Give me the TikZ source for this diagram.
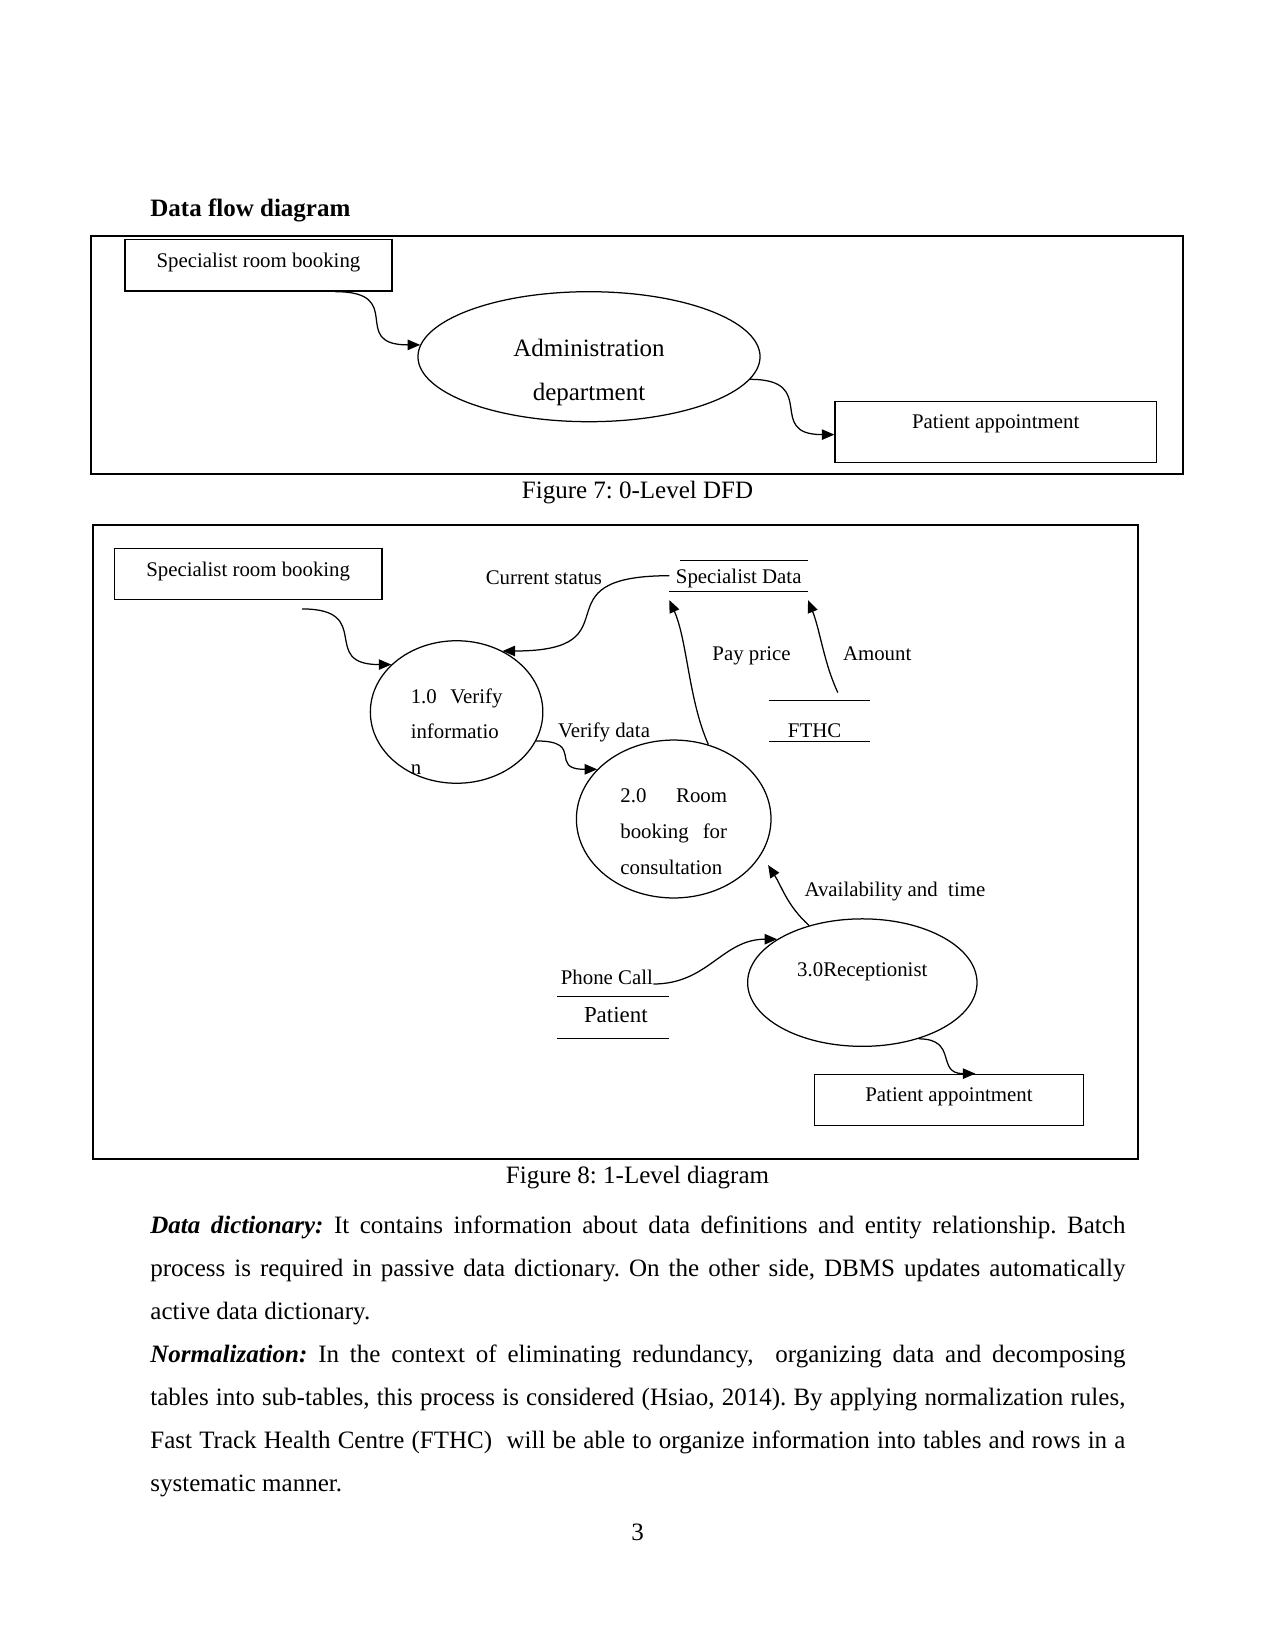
\documentclass[tikz,border=0pt]{standalone}
\usepackage{fontspec}
\setmainfont{Liberation Serif}
\usepackage{tikz}
\usetikzlibrary{shapes.geometric, arrows.meta, positioning}

\newcommand{\fs}[2]{\fontsize{#1}{#2}\selectfont}
\frenchspacing

\begin{document}
\begin{tikzpicture}[x=0.48pt, y=-0.48pt,
    every node/.style={font=\fs{10}{17.2}},
    entity/.style={draw, rectangle, line width=0.6pt, inner sep=0pt, text height=1.9pt, text depth=0pt},
    process/.style={draw, ellipse, line width=0.6pt, inner sep=0pt, text height=0pt},
    store/.style={inner sep=0pt, anchor=base},
    flow/.style={line width=0.6pt, -{Triangle[length=6pt,width=5pt]}},
    lbl/.style={anchor=base, inner sep=0pt}]
    \useasboundingbox (0,0) rectangle (1275,1650);

    % 0-level
    \node[font=\bfseries\fs{12}{14}, anchor=base west, inner sep=0pt] (title) at (150,217) {Data flow diagram};
    \draw[line width=0.6pt] (91,236) rectangle (1183,474);
    \node[entity, minimum width=128.2pt, minimum height=24.8pt] (spec1) at (258.5,265.2) {Specialist room booking};
    \node[process, minimum width=164.2pt, minimum height=62.4pt, text width=80pt, align=center, font=\fs{12}{20.8}, text depth=0pt] (admin) at (589,356.7) {Administration\\department};
    \node[entity, minimum width=154.3pt, minimum height=29.3pt, text depth=4.6pt] (appt1) at (995.7,431.8) {Patient appointment};
    \draw[flow] (spec1.-19) .. controls +(72,0) and +(-72,0) .. (admin.176);
    \draw[flow] (admin.-8) .. controls +(70,0) and +(-70,0) .. (appt1.181);
    \node[lbl, font=\fs{12}{14}] (fig7) at (637.5,498) {Figure 7: 0-Level DFD};

    % 1-level
    \draw[line width=0.6pt] (93,525) rectangle (1138,1159);
    \node[entity, minimum width=128.5pt, minimum height=24.5pt, text height=2.9pt] (spec2) at (248.2,573.8) {Specialist room booking};
    \node[process, minimum width=82.8pt, minimum height=68.4pt, text width=44pt, align=justify, text depth=8.6pt] (verify) at (456.6,712) {1.0 Verify\linebreak informatio\newline n};
    \node[process, minimum width=93.4pt, minimum height=75.8pt, text width=51.2pt, align=justify, text depth=15.4pt] (room) at (673.7,819) {2.0 Room\linebreak booking for\linebreak consultation};
    \node[process, minimum width=110.1pt, minimum height=61.2pt, text depth=6.3pt] (recep) at (862.3,982.6) {3.0Receptionist};
    \node[entity, minimum width=129.1pt, minimum height=24.7pt] (appt2) at (949,1100) {Patient appointment};

    \node[store, text height=10.7pt, text depth=3.7pt, minimum width=66.2pt] (sdata) at (738.7,583) {Specialist Data};
    \node[store, text height=17.3pt, text depth=1.9pt, minimum width=48.2pt] (fthc) at (819.8,737) {FTHC\hspace*{5pt}};
    \node[store, font=\fs{11}{13}, text height=12.2pt, text depth=7.8pt, minimum width=53.3pt] (patient) at (612.8,1022) {\hspace*{2.9pt}Patient};
    \foreach \s/\d in {sdata/4.9pt, fthc/0pt, patient/0pt}
        \draw[line width=0.6pt] ([xshift=\d]\s.north west) -- (\s.north east) (\s.south west) -- (\s.south east);

    \node[lbl] (curstat) at (543.9,584.5) {Current status};
    \node[lbl] (vdata) at (604,737.5) {Verify data};
    \node[lbl] (payprice) at (751.5,660.5) {Pay price};
    \node[lbl] (amount) at (877.2,660.5) {Amount};
    \node[lbl] (avail) at (894.9,896.5) {Availability and~ time};
    \node[lbl] (phonecall) at (606.9,984) {Phone Call};

    \coordinate (bookout) at ([shift={(54,9)}]spec2.south);
    \draw[flow] (bookout) .. controls +(73,0) and +(-73,0) .. (verify.144);
    \draw[flow] (sdata.west) .. controls +(-137,0) and +(137,0) .. (verify.53);
    \draw[flow] (verify.-20) .. controls +(50,0) and +(-50,0) .. (room.147);
    \draw[flow] (room.65) .. controls +(-20,-45) and +(18,40) .. ([shift={(0,9)}]sdata.south west);
    \draw[flow] ([shift={(18,-8)}]fthc.north) .. controls +(-14,-30) and +(12,30) .. ([shift={(0,9)}]sdata.south east);
    \draw[flow] (recep.133) .. controls +(-22,-20) and +(14,22) .. ([xshift=7pt]room.-30);
    \draw[flow] (phonecall.base east) .. controls +(55,0) and +(-55,0) .. (recep.153);
    \draw[flow] (recep.-45) .. controls +(40,0) and +(-40,0) .. (appt2.45);
    \node[lbl, font=\fs{12}{14}] (fig8) at (637.5,1183) {Figure 8: 1-Level diagram};

    % text below
    \node[anchor=base west, inner sep=0pt, text width=468pt, align=justify, font=\fs{12}{20.66}] (body) at (150,1233) {\tolerance=9000 \textbf{\textit{Data dictionary:}} It contains information about data definitions and entity relationship. Batch\linebreak process is required in passive data dictionary. On the other side, DBMS updates automatically\linebreak active data dictionary.\par
    \textbf{\textit{Normalization:}} In the context of eliminating redundancy,~ organizing data and decomposing\linebreak tables into sub-tables, this process is considered (Hsiao, 2014). By applying normalization rules,\linebreak Fast Track Health Centre (FTHC)~ will be able to organize information into tables and rows in a\linebreak systematic manner.};
    \node[lbl, font=\fs{12}{14}] (pageno) at (637.5,1540) {3};
\end{tikzpicture}
\end{document}
